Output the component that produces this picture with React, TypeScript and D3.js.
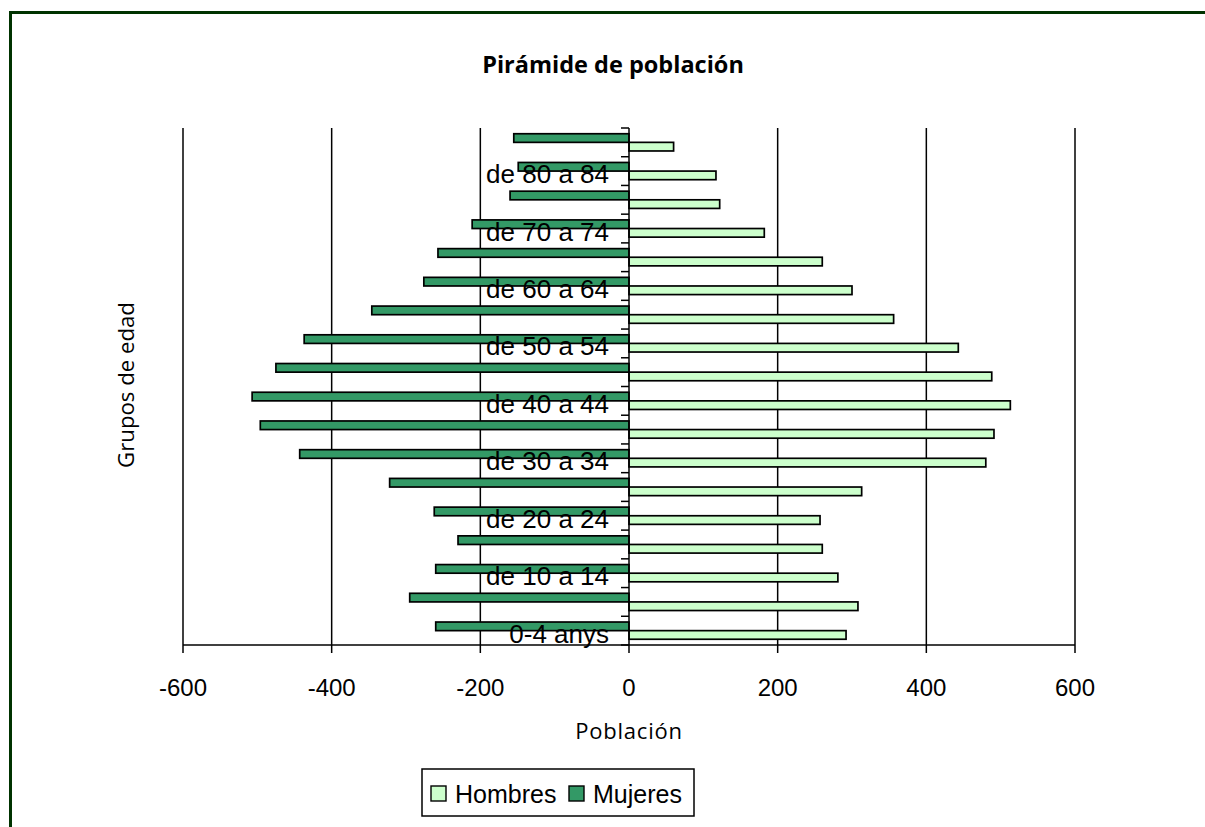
import React from "react";
import * as d3 from "d3";

const categories = [
  "0-4 anys", "de 5 a 9", "de 10 a 14", "de 15 a 19", "de 20 a 24", "de 25 a 29",
  "de 30 a 34", "de 35 a 39", "de 40 a 44", "de 45 a 49", "de 50 a 54", "de 55 a 59",
  "de 60 a 64", "de 65 a 69", "de 70 a 74", "de 75 a 79", "de 80 a 84", "85 y más",
];
const hombres = [292, 308, 281, 260, 257, 313, 480, 491, 513, 488, 443, 356, 300, 260, 182, 122, 117, 60];
const mujeres = [-260, -295, -260, -230, -262, -322, -443, -496, -507, -475, -437, -346, -276, -257, -211, -160, -149, -155];
const xTicks = [-600, -400, -200, 0, 200, 400, 600];
const seriesNames = ["Hombres", "Mujeres"];
const seriesColors = ["#CCFFCC", "#339966"];

export default function App() {
  const W = 1205, H = 827;
  const left = 183, right = 1075, top = 128, bottom = 645;
  const x = d3.scaleLinear().domain([-600, 600]).range([left, right]);
  const y = d3.scaleBand<string>().domain(categories).range([bottom, top]).paddingInner(0).paddingOuter(0);
  const bw = y.bandwidth();
  const x0 = x(0);
  const arial = "'Liberation Sans', Arial, sans-serif";
  const sans = "'Open Sans', sans-serif";
  const boundaries = d3.range(categories.length + 1).map((i) => bottom - i * y.step());

  return (
    <svg width={W} height={H} style={{ position: "absolute", left: 0, top: 0, background: "#fff" }}>
      <rect x={10.5} y={12.5} width={1300} height={1000} fill="#fff" stroke="#003300" strokeWidth={3} />
      <text x={613} y={73} textAnchor="middle" fontFamily={sans} fontWeight="bold" fontSize={23.5} fill="#000">
        Pirámide de población
      </text>
      {xTicks.filter((t) => t !== 0).map((t) => (
        <line key={"g" + t} x1={x(t)} x2={x(t)} y1={top} y2={bottom} stroke="#000" strokeWidth={1.5} />
      ))}
      {categories.map((c, i) => (
        <g key={c}>
          <rect x={x(mujeres[i])} y={(y(c) as number) + bw * 0.2} width={x0 - x(mujeres[i])} height={bw * 0.3}
            fill={seriesColors[1]} stroke="#000" strokeWidth={1.7} />
          <rect x={x0} y={(y(c) as number) + bw * 0.5} width={x(hombres[i]) - x0} height={bw * 0.3}
            fill={seriesColors[0]} stroke="#000" strokeWidth={1.7} />
        </g>
      ))}
      <line x1={x0} x2={x0} y1={top} y2={bottom} stroke="#000" strokeWidth={1.5} />
      {boundaries.map((b, i) => (
        <line key={"yt" + i} x1={x0 - 8} x2={x0} y1={b} y2={b} stroke="#000" strokeWidth={1.5} />
      ))}
      <line x1={left} x2={right} y1={bottom} y2={bottom} stroke="#000" strokeWidth={1.5} />
      {xTicks.map((t) => (
        <g key={"xt" + t}>
          <line x1={x(t)} x2={x(t)} y1={bottom} y2={bottom + 8} stroke="#000" strokeWidth={1.5} />
          <text x={x(t)} y={696} textAnchor="middle" fontFamily={arial} fontSize={24} fill="#000">{t}</text>
        </g>
      ))}
      {categories.map((c, i) => i % 2 === 0 ? (
        <text key={"l" + c} x={609} y={(y(c) as number) + bw / 2 + 12} textAnchor="end" fontFamily={arial} fontSize={26} fill="#000">
          {c}
        </text>
      ) : null)}
      <text x={629} y={739} textAnchor="middle" fontFamily={sans} fontSize={22} letterSpacing={0.8} fill="#000">Población</text>
      <text transform={`translate(134,385) rotate(-90)`} textAnchor="middle" fontFamily={sans} fontSize={22.2} fill="#000">
        Grupos de edad
      </text>
      <rect x={422} y={769} width={272} height={47} fill="#fff" stroke="#000" strokeWidth={1.5} />
      {seriesNames.map((s, i) => {
        const sx = i === 0 ? 431 : 569;
        return (
          <g key={s}>
            <rect x={sx} y={786} width={15} height={15} fill={seriesColors[i]} stroke="#000" strokeWidth={1.4} />
            <text x={sx + 24} y={803} fontFamily={arial} fontSize={25} fill="#000">{s}</text>
          </g>
        );
      })}
    </svg>
  );
}
